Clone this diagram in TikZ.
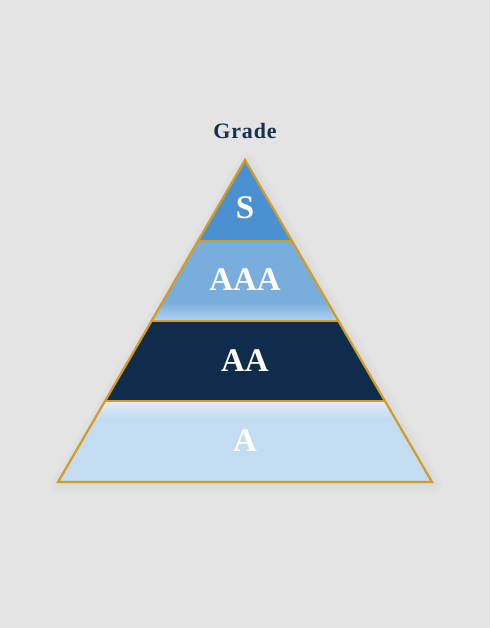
\documentclass[tikz,border=0pt]{standalone}
\usepackage{fontspec}
\setmainfont{Liberation Serif}
\definecolor{bg}{HTML}{E4E4E4}
\definecolor{gold}{HTML}{D39C22}
\definecolor{scol}{HTML}{4B91D1}
\definecolor{aaacol}{HTML}{79ADDC}
\definecolor{aaalight}{HTML}{B2D2EE}
\definecolor{aacol}{HTML}{0F2C4D}
\definecolor{acol}{HTML}{C4DCF2}
\definecolor{alight}{HTML}{E2EEF9}
\definecolor{navy}{HTML}{17304F}
\tikzset{
  border/.style={draw=gold, line width=2.2pt, line join=miter},
  sep/.style={draw=gold, line width=2.2pt},
  gradelbl/.style={text=white, font=\bfseries\fontsize{33}{33}\selectfont, inner sep=0pt},
  titlelbl/.style={text=navy, font=\bfseries\fontsize{22}{22}\selectfont\addfontfeatures{LetterSpace=4}, inner sep=0pt}
}
\begin{document}
\begin{tikzpicture}[x=1pt,y=-1pt]
\useasboundingbox (0,0) rectangle (490,628);
\fill[bg] (0,0) rectangle (490,628);
% coordinates
\coordinate (T) at (245,160);
\coordinate (L1) at (197.96,241); \coordinate (R1) at (292.04,241);
\coordinate (L2) at (151.5,321);  \coordinate (R2) at (338.5,321);
\coordinate (L3) at (105.04,401); \coordinate (R3) at (384.96,401);
\coordinate (L4) at (58,482);     \coordinate (R4) at (432,482);
% soft shadow
\foreach \w in {6,12,18}{
  \draw[black, opacity=0.012, line width=\w pt, line join=round]
    ([xshift=2pt,yshift=-2pt]T) -- ([xshift=2pt,yshift=-2pt]R4) -- ([xshift=2pt,yshift=-2pt]L4) -- cycle;
}
% bands
\fill[scol] (T) -- (R1) -- (L1) -- cycle;
\fill[aaacol] (L1) -- (R1) -- (R2) -- (L2) -- cycle;
\begin{scope}
  \clip (L1) -- (R1) -- (R2) -- (L2) -- cycle;
  \shade[top color=aaacol, bottom color=aaalight] (140,302) rectangle (350,321);
\end{scope}
\fill[aacol] (L2) -- (R2) -- (R3) -- (L3) -- cycle;
\fill[acol] (L3) -- (R3) -- (R4) -- (L4) -- cycle;
\begin{scope}
  \clip (L3) -- (R3) -- (R4) -- (L4) -- cycle;
  \shade[top color=alight, bottom color=acol] (50,401) rectangle (440,418);
\end{scope}
% separators and border
\draw[sep] (L1) -- (R1);
\draw[sep] (L2) -- (R2);
\draw[sep] (L3) -- (R3);
\draw[border] (T) -- (R4) -- (L4) -- cycle;
% labels
\node[titlelbl] (title) at (245,131) {Grade};
\node[gradelbl] (s) at (245,208) {S};
\node[gradelbl] (aaa) at (245,280) {AAA};
\node[gradelbl] (aa) at (245,361) {AA};
\node[gradelbl] (a) at (245,441) {A};
\end{tikzpicture}
\end{document}
